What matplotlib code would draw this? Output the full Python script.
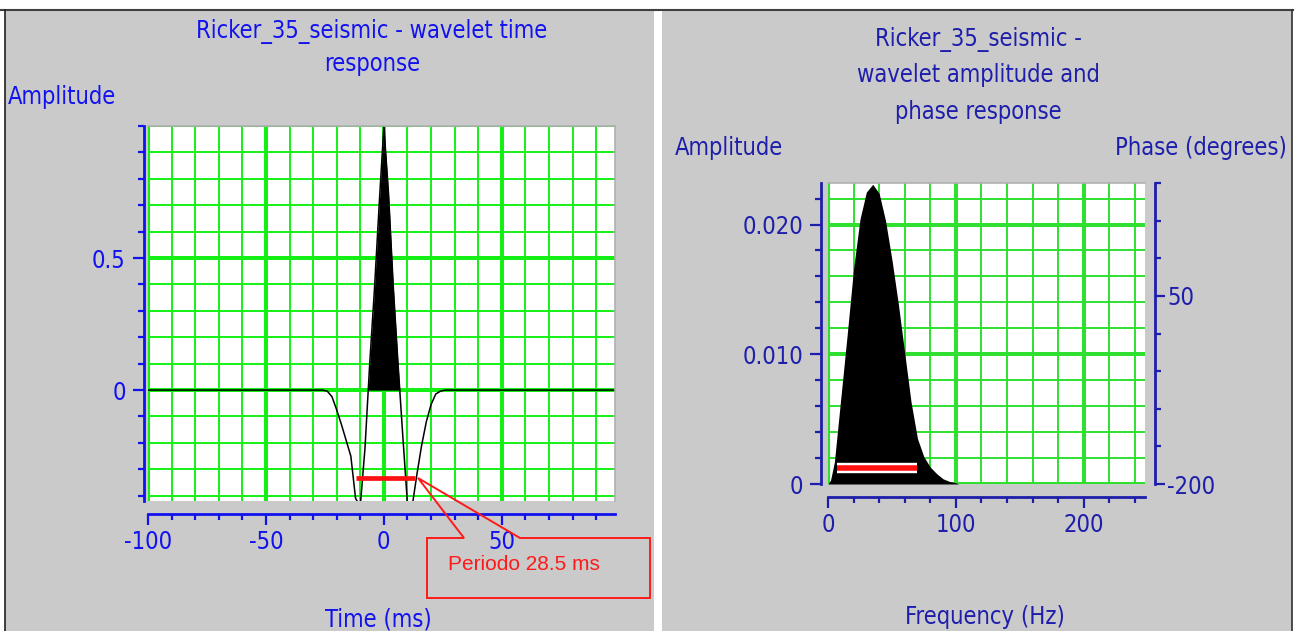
"""Ricker wavelet time response and amplitude/phase spectrum panels."""

import matplotlib

matplotlib.use("Agg")
import matplotlib.pyplot as plt
from matplotlib import font_manager
from matplotlib.lines import Line2D
from matplotlib.patches import Polygon, Rectangle
from matplotlib.ticker import FixedFormatter, FixedLocator, MultipleLocator

# wavelet time response (ms, amplitude)
time_ms = [-100, -26, -24, -22, -20, -18, -16, -14, -12, -10, -8, -6, -4, -2, 0,
           2, 4, 6, 8, 10, 12, 14, 16, 18, 20, 22, 24, 26, 98]
wavelet = [0, 0, -0.004, -0.025, -0.075, -0.13, -0.19, -0.25, -0.41, -0.44, -0.22,
           0.10, 0.38, 0.70, 1.0, 0.74, 0.39, 0.10, -0.17, -0.43, -0.44, -0.32,
           -0.21, -0.12, -0.055, -0.015, -0.004, 0, 0]
period_ms = [-11.7, 13.3]
period_level = -0.332
period_label = "Periodo 28.5 ms"

# amplitude spectrum (Hz, amplitude)
freq_hz = [0, 2, 5, 10, 15, 20, 25, 30, 35, 40, 45, 50, 55, 60, 65, 70, 75, 80,
           85, 90, 95, 100, 102]
spectrum = [0, 0.0003, 0.0017, 0.0066, 0.0115, 0.0166, 0.0204, 0.0225, 0.0231,
            0.0224, 0.0203, 0.0173, 0.0139, 0.0101, 0.0063, 0.0035, 0.0021,
            0.0013, 0.0008, 0.0004, 0.0002, 0.0001, 0]
band_hz = [7.4, 70]
band_level = 0.0012

time_ticks = [-100, -50, 0, 50]
amp_ticks = [0, 0.5]
spec_ticks = [0, 0.01, 0.02]
spec_labels = ["0", "0.010", "0.020"]
freq_ticks = [0, 100, 200]
phase_ticks = [-200, 50]

W, H = 1297, 631
BG = "#cacaca"
GREEN_L = "#14f014"
GREEN_R = "#30e030"
BLUE_L = "#1212ee"
BLUE_R = "#1e1eac"

# pick a narrow face if one is installed, otherwise plain sans at a smaller size
narrow = None
for f in font_manager.fontManager.ttflist:
    if f.name in ("Liberation Sans Narrow", "Roboto Condensed", "DejaVu Sans") \
            and f.stretch in ("condensed", "semi-condensed", "extra-condensed", 600) \
            or "Narrow" in f.name or "Condensed" in f.name:
        narrow = f
        break

if narrow is not None:
    FONT = dict(family=[narrow.name, "Liberation Sans"], stretch=narrow.stretch)
    FS = 17
else:
    FONT = dict(family=["Liberation Sans", "DejaVu Sans"])
    FS = 15

plt.rcParams["font.family"] = FONT["family"]
if "stretch" in FONT:
    plt.rcParams["font.stretch"] = FONT["stretch"]
plt.rcParams["axes.unicode_minus"] = False


def fx(x):
    return x / W


def fy(y):
    return 1 - y / H


fig = plt.figure(figsize=(W / 100, H / 100), dpi=100, facecolor="white")

# panel backgrounds and frame lines
for x0, x1 in [(5, 654), (662, 1292)]:
    fig.add_artist(Rectangle((fx(x0), 0), fx(x1 - x0), fy(10), transform=fig.transFigure,
                             facecolor=BG, edgecolor="none", zorder=-5))
fig.add_artist(Line2D([0, fx(1293)], [fy(10), fy(10)], transform=fig.transFigure,
                      color="#404040", lw=1.5, zorder=-4))
fig.add_artist(Line2D([fx(5), fx(5)], [0, fy(10)], transform=fig.transFigure,
                      color="#202020", lw=1.2, zorder=-4))
fig.add_artist(Line2D([fx(1292), fx(1292)], [0, fy(10)], transform=fig.transFigure,
                      color="#303030", lw=1.2, zorder=-4))


def style_axis(ax, color, grid_color):
    ax.set_facecolor("white")
    ax.set_axisbelow(True)
    ax.grid(which="major", color=grid_color, lw=2.9)
    ax.grid(which="minor", color=grid_color, lw=1.4)
    for side in ["top", "right"]:
        ax.spines[side].set_color("#b0b0b0")
        ax.spines[side].set_linewidth(1.2)
    for side in ["left", "bottom"]:
        ax.spines[side].set_color(color)
        ax.spines[side].set_linewidth(2)
    ax.tick_params(which="major", length=8, width=1.6, color=color, labelcolor=color,
                   labelsize=FS)
    ax.tick_params(which="minor", length=4, width=1.6, color=color)
    ax.tick_params(axis="y", which="major", pad=5)
    ax.tick_params(axis="x", which="major", pad=4)


# ---- left: wavelet time response
ax1 = fig.add_axes([fx(148), fy(501), (615 - 148) / W, (501 - 126) / H])
ax1.set_xlim(-100, 98)
ax1.set_ylim(-0.42, 1.0)
ax1.xaxis.set_major_locator(FixedLocator(time_ticks))
ax1.xaxis.set_major_formatter(FixedFormatter([str(t) for t in time_ticks]))
ax1.xaxis.set_minor_locator(MultipleLocator(10))
ax1.yaxis.set_major_locator(FixedLocator(amp_ticks))
ax1.yaxis.set_major_formatter(FixedFormatter(["0", "0.5"]))
ax1.yaxis.set_minor_locator(MultipleLocator(0.1))
style_axis(ax1, BLUE_L, GREEN_L)
ax1.spines["left"].set_position(("outward", 3))
ax1.spines["bottom"].set_position(("outward", 9))

ax1.fill_between(time_ms, wavelet, 0, where=[v > 0 for v in wavelet],
                 interpolate=True, color="black", lw=0)
ax1.plot(time_ms, wavelet, color="black", lw=1.1)
ax1.plot(period_ms, [period_level, period_level], color="#ff1010", lw=3.4,
         solid_capstyle="butt")

# callout box
callout = [(427, 538), (464, 538), (418, 478), (520, 538), (650, 538), (650, 598), (427, 598)]
fig.add_artist(Polygon([(fx(x), fy(y)) for x, y in callout], closed=True, fill=False,
                       edgecolor="#ff1a1a", lw=1.4, transform=fig.transFigure, zorder=5))
fig.text(fx(448), fy(564), period_label, color="#ff1a1a", fontsize=15,
         family=["Liberation Sans", "DejaVu Sans"], stretch="normal", ha="left", va="center")

fig.text(fx(372), fy(32), "Ricker_35_seismic - wavelet time", color=BLUE_L,
         fontsize=FS, ha="center", va="center")
fig.text(fx(372), fy(64), "response", color=BLUE_L, fontsize=FS, ha="center", va="center")
fig.text(fx(8), fy(97), "Amplitude", color=BLUE_L, fontsize=FS, ha="left", va="center")
fig.text(fx(378), fy(619), "Time (ms)", color=BLUE_L, fontsize=FS, ha="center", va="center")

# ---- right: amplitude and phase spectrum
ax2 = fig.add_axes([fx(828), fy(484), (1145 - 828) / W, (484 - 183) / H])
ax2.set_xlim(0, 248)
ax2.set_ylim(0, 0.0232)
ax2.xaxis.set_major_locator(FixedLocator(freq_ticks))
ax2.xaxis.set_major_formatter(FixedFormatter([str(f) for f in freq_ticks]))
ax2.xaxis.set_minor_locator(MultipleLocator(20))
ax2.yaxis.set_major_locator(FixedLocator(spec_ticks))
ax2.yaxis.set_major_formatter(FixedFormatter(spec_labels))
ax2.yaxis.set_minor_locator(MultipleLocator(0.002))
style_axis(ax2, BLUE_R, GREEN_R)
ax2.spines["right"].set_visible(False)
ax2.spines["left"].set_position(("outward", 5))
ax2.spines["bottom"].set_position(("outward", 9))

ax2.fill_between(freq_hz, spectrum, 0, color="black", lw=0)
ax2.plot(band_hz, [band_level, band_level], color="white", lw=7.5, solid_capstyle="butt")
ax2.plot(band_hz, [band_level, band_level], color="#ff1010", lw=4, solid_capstyle="butt")

axp = ax2.twinx()
axp.set_ylim(-200, 200)
for side in ["left", "top", "bottom"]:
    axp.spines[side].set_visible(False)
axp.spines["right"].set_position(("outward", 7))
axp.spines["right"].set_color(BLUE_R)
axp.spines["right"].set_linewidth(2)
axp.yaxis.set_major_locator(FixedLocator(phase_ticks))
axp.yaxis.set_major_formatter(FixedFormatter([str(p) for p in phase_ticks]))
axp.yaxis.set_minor_locator(MultipleLocator(50))
axp.tick_params(which="major", length=7, width=1.6, color=BLUE_R, labelcolor=BLUE_R,
                labelsize=FS, pad=2)
axp.tick_params(which="minor", length=4, width=1.6, color=BLUE_R)

fig.text(fx(978), fy(40), "Ricker_35_seismic -", color=BLUE_R, fontsize=FS,
         ha="center", va="center")
fig.text(fx(978), fy(75), "wavelet amplitude and", color=BLUE_R, fontsize=FS,
         ha="center", va="center")
fig.text(fx(978), fy(112), "phase response", color=BLUE_R, fontsize=FS,
         ha="center", va="center")
fig.text(fx(675), fy(148), "Amplitude", color=BLUE_R, fontsize=FS, ha="left", va="center")
fig.text(fx(1287), fy(148), "Phase (degrees)", color=BLUE_R, fontsize=FS,
         ha="right", va="center")
fig.text(fx(985), fy(617), "Frequency (Hz)", color=BLUE_R, fontsize=FS,
         ha="center", va="center")

fig.savefig("out.png", dpi=100, facecolor=fig.get_facecolor())
plt.close(fig)
